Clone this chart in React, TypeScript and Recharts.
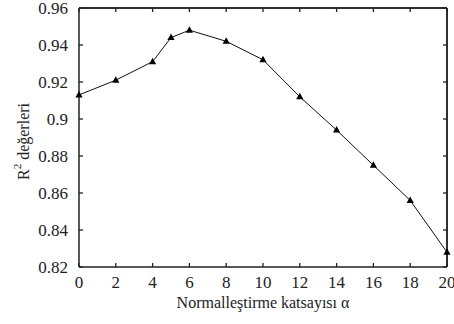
import { LineChart, Line, XAxis, YAxis, Label, ReferenceLine } from "recharts";

const alphas = [0, 2, 4, 5, 6, 8, 10, 12, 14, 16, 18, 20];
const r2Values = [0.913, 0.921, 0.931, 0.944, 0.948, 0.942, 0.932, 0.912, 0.894, 0.875, 0.856, 0.828];
const xTicks = [0, 2, 4, 6, 8, 10, 12, 14, 16, 18, 20];
const yTicks = [0.82, 0.84, 0.86, 0.88, 0.9, 0.92, 0.94, 0.96];
const xDomain = [0, 20];
const yDomain = [0.82, 0.96];

const data = alphas.map((a, i) => ({ alpha: a, r2: r2Values[i] }));

const FONT = "'Liberation Serif', 'Times New Roman', serif";
const INK = "#222";
const AXIS = "#222";
const axisLine = { stroke: AXIS, strokeWidth: 1.5 };
const txt = { fontFamily: FONT };

const fmtY = (v: number) => String(Number(v.toFixed(2)));

// ticks point inwards, like the original plot
function BottomTick(props: any) {
  const { x, y, payload } = props;
  return (
    <g>
      <line x1={x} x2={x} y1={y} y2={y - 4} stroke={AXIS} strokeWidth={1.3} />
      <text x={x} y={y + 21} textAnchor="middle" fontSize={17} style={txt} fill={INK}>
        {payload.value}
      </text>
    </g>
  );
}

function TopTick(props: any) {
  const { x, y } = props;
  return <line x1={x} x2={x} y1={y} y2={y + 4} stroke={AXIS} strokeWidth={1.3} />;
}

function LeftTick(props: any) {
  const { x, y, payload } = props;
  return (
    <g>
      <line x1={x} x2={x + 4} y1={y} y2={y} stroke={AXIS} strokeWidth={1.3} />
      <text x={x - 11} y={y + 6} textAnchor="end" fontSize={17} style={txt} fill={INK}>
        {fmtY(payload.value)}
      </text>
    </g>
  );
}

function RightTick(props: any) {
  const { x, y } = props;
  return <line x1={x} x2={x - 4} y1={y} y2={y} stroke={AXIS} strokeWidth={1.3} />;
}

function Triangle(props: any) {
  const { cx, cy } = props;
  if (cx == null || cy == null) return null;
  return <path d={`M${cx},${cy - 4} L${cx + 3.6},${cy + 2.5} L${cx - 3.6},${cy + 2.5} Z`} fill="#000" />;
}

function YLabel(props: any) {
  const { viewBox } = props;
  const cx = 23;
  const cy = viewBox.y + viewBox.height / 2 + 4;
  return (
    <text
      x={cx}
      y={cy}
      transform={`rotate(-90 ${cx} ${cy})`}
      textAnchor="middle"
      dominantBaseline="central"
      fontSize={16}
      style={txt}
      fill={INK}
    >
      R<tspan dy={-6} fontSize={11}>2</tspan>
      <tspan dy={6}> değerleri</tspan>
    </text>
  );
}

function XLabel(props: any) {
  const { viewBox } = props;
  return (
    <text
      x={viewBox.x + viewBox.width / 2}
      y={viewBox.y + 41}
      textAnchor="middle"
      fontSize={16}
      style={txt}
      fill={INK}
    >
      Normalleştirme katsayısı α
    </text>
  );
}

export default function App() {
  return (
    <div style={{ position: "absolute", left: 0, top: 0, background: "#fff", overflow: "hidden", width: 454, height: 324 }}>
      <LineChart width={454} height={324} data={data} margin={{ top: 7, right: 6, left: 0, bottom: 27 }}>
        <XAxis
          dataKey="alpha"
          type="number"
          domain={xDomain}
          ticks={xTicks}
          tickSize={0}
          tickMargin={0}
          tick={<BottomTick />}
          height={30}
          axisLine={axisLine}
          interval={0}
        >
          <Label content={<XLabel />} />
        </XAxis>
        <XAxis
          xAxisId="top"
          orientation="top"
          dataKey="alpha"
          type="number"
          domain={xDomain}
          ticks={xTicks}
          tickSize={0}
          tickMargin={0}
          tick={<TopTick />}
          height={1}
          axisLine={axisLine}
          interval={0}
        />
        <YAxis
          type="number"
          domain={yDomain}
          ticks={yTicks}
          tickSize={0}
          tickMargin={0}
          tick={<LeftTick />}
          width={79}
          axisLine={axisLine}
          interval={0}
        >
          <Label content={<YLabel />} />
        </YAxis>
        <YAxis
          yAxisId="right"
          orientation="right"
          type="number"
          domain={yDomain}
          ticks={yTicks}
          tickSize={0}
          tickMargin={0}
          tick={<RightTick />}
          width={1}
          axisLine={axisLine}
          interval={0}
        />
        {/* frame: top and right edges of the box */}
        <ReferenceLine y={yDomain[1]} stroke={AXIS} strokeWidth={1.5} ifOverflow="visible" />
        <ReferenceLine x={xDomain[1]} stroke={AXIS} strokeWidth={1.5} ifOverflow="visible" />
        {/* invisible twin so the mirrored top/right axes get drawn */}
        <Line
          xAxisId="top"
          yAxisId="right"
          dataKey="r2"
          stroke="none"
          dot={false}
          activeDot={false}
          isAnimationActive={false}
        />
        <Line
          dataKey="r2"
          stroke="#111"
          strokeWidth={1}
          dot={<Triangle />}
          isAnimationActive={false}
        />
      </LineChart>
    </div>
  );
}
